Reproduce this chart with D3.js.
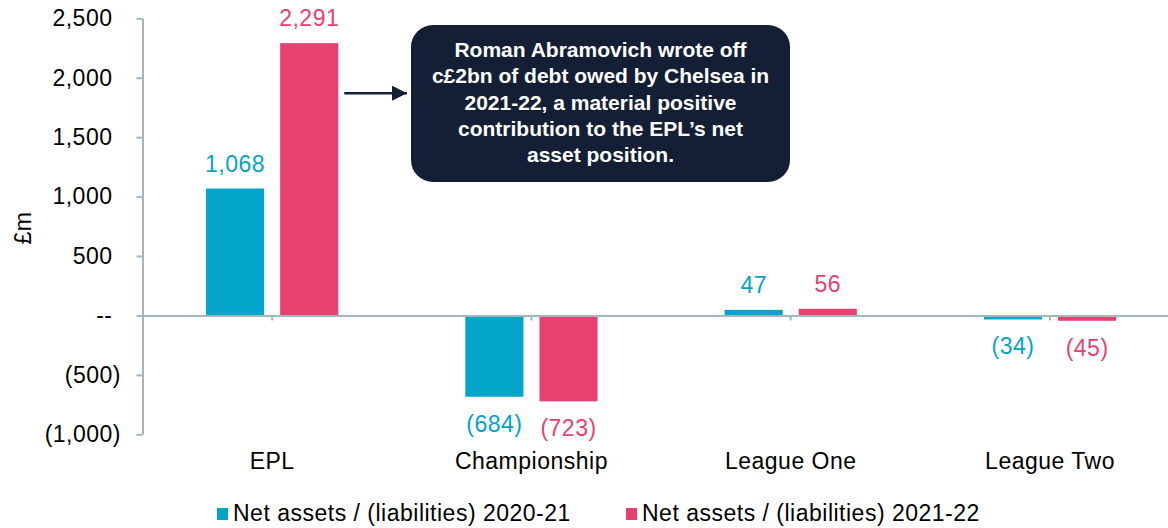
<!DOCTYPE html>
<html>
<head>
<meta charset="utf-8">
<script src="https://cdn.jsdelivr.net/npm/d3@7"></script>
<style>
  body { margin: 0; background: #fff; }
  svg { display: block; font-family: Arial, "Liberation Sans", sans-serif; }
  .lbl { font-size: 23px; letter-spacing: 0.5px; }
</style>
</head>
<body>
<div id="chart"></div>
<script>
// Chart data
const categories = ["EPL", "Championship", "League One", "League Two"];
const seriesNames = ["Net assets / (liabilities) 2020-21", "Net assets / (liabilities) 2021-22"];
const values2020_21 = [1068, -684, 47, -34];
const values2021_22 = [2291, -723, 56, -45];
const yTickValues = [-1000, -500, 0, 500, 1000, 1500, 2000, 2500];
const seriesColors = ["#02A4C9", "#E9416F"];
const calloutLines = [
    "Roman Abramovich wrote off",
    "c£2bn of debt owed by Chelsea in",
    "2021-22, a material positive",
    "contribution to the EPL\u2019s net",
    "asset position."
];

const width = 1168, height = 528;
const axisColor = "#A3B6BC";
const navy = "#141F36";

const svg = d3.select("#chart")
    .append("svg")
    .attr("width", width)
    .attr("height", height);

// Scales
const plotLeft = 142.5, step = 259.3;
const x0 = d3.scaleBand()
    .domain(categories)
    .range([plotLeft, plotLeft + step * categories.length])
    .paddingInner(0.49)
    .paddingOuter(0.245);

const x1 = d3.scaleBand()
    .domain(seriesNames)
    .range([0, x0.bandwidth()])
    .paddingInner(0.216);

const y = d3.scaleLinear()
    .domain([-1000, 2500])
    .range([434.3, 18.3]);

const fmt = v => v === 0 ? "--" : (v < 0 ? "(" + d3.format(",")(-v) + ")" : d3.format(",")(v));

// Bars
const rows = categories.map((c, i) => ({
    cat: c,
    vals: [values2020_21[i], values2021_22[i]]
}));

const groups = svg.selectAll(".grp")
    .data(rows)
    .enter().append("g")
    .attr("class", "grp")
    .attr("transform", d => `translate(${x0(d.cat)},0)`);

groups.selectAll("rect")
    .data(d => d.vals.map((v, j) => ({ v, j })))
    .enter().append("rect")
    .attr("x", d => x1(seriesNames[d.j]))
    .attr("width", x1.bandwidth())
    .attr("y", d => y(Math.max(0, d.v)))
    .attr("height", d => Math.abs(y(d.v) - y(0)))
    .attr("fill", d => seriesColors[d.j]);

groups.selectAll(".val")
    .data(d => d.vals.map((v, j) => ({ v, j })))
    .enter().append("text")
    .attr("class", "val lbl")
    .attr("x", d => x1(seriesNames[d.j]) + x1.bandwidth() / 2)
    .attr("y", d => d.v >= 0 ? y(d.v) - 17 : y(d.v) + 35)
    .attr("text-anchor", "middle")
    .attr("fill", d => seriesColors[d.j])
    .text(d => fmt(d.v));

// Y axis
const yAxis = svg.append("g")
    .attr("transform", `translate(${plotLeft},0)`)
    .call(d3.axisLeft(y).tickValues(yTickValues).tickSize(6).tickSizeOuter(0).tickFormat(fmt));

yAxis.select(".domain").attr("stroke", axisColor).attr("stroke-width", 2);
yAxis.selectAll(".tick line").attr("stroke", axisColor).attr("stroke-width", 2);
yAxis.selectAll(".tick text")
    .attr("class", "lbl")
    .attr("x", d => d < 0 ? -21.5 : -30)
    .attr("font-size", null)
    .attr("font-family", "Arial, 'Liberation Sans', sans-serif")
    .attr("fill", "#000");
yAxis.attr("font-size", null);

// X axis at zero
const xAxis = svg.append("g")
    .attr("transform", `translate(0,${y(0)})`)
    .call(d3.axisBottom(x0).tickSize(5).tickSizeOuter(0));

xAxis.select(".domain").attr("stroke", axisColor).attr("stroke-width", 2);
xAxis.selectAll(".tick line").attr("stroke", axisColor).attr("stroke-width", 2);
xAxis.selectAll(".tick text").remove();

// Category labels
svg.selectAll(".cat")
    .data(categories)
    .enter().append("text")
    .attr("class", "cat lbl")
    .attr("x", d => x0(d) + x0.bandwidth() / 2)
    .attr("y", 469)
    .attr("text-anchor", "middle")
    .attr("fill", "#000")
    .text(d => d);

// Y axis title
svg.append("text")
    .attr("class", "lbl")
    .attr("transform", "translate(31,228) rotate(-90)")
    .attr("text-anchor", "middle")
    .attr("fill", "#000")
    .text("£m");

// Callout arrow, anchored to the 2021-22 EPL bar
const arrowY = y(1870);
const arrowX1 = x0("EPL") + x1(seriesNames[1]) + x1.bandwidth() + 6;
const arrowX2 = 407;

svg.append("defs").append("marker")
    .attr("id", "head")
    .attr("viewBox", "0 0 10 10")
    .attr("refX", 10).attr("refY", 5)
    .attr("markerWidth", 6).attr("markerHeight", 6)
    .attr("markerUnits", "strokeWidth")
    .attr("orient", "auto")
    .append("path")
    .attr("d", "M0,0 L10,5 L0,10 Z")
    .attr("fill", navy);

svg.append("line")
    .attr("x1", arrowX1).attr("y1", arrowY)
    .attr("x2", arrowX2).attr("y2", arrowY)
    .attr("stroke", navy)
    .attr("stroke-width", 2.5)
    .attr("marker-end", "url(#head)");

// Callout box
const box = { x: 411, y: 25, w: 379, h: 157 };
svg.append("rect")
    .attr("x", box.x).attr("y", box.y)
    .attr("width", box.w).attr("height", box.h)
    .attr("rx", 22).attr("ry", 22)
    .attr("fill", navy);

svg.append("text")
    .attr("text-anchor", "middle")
    .attr("font-size", 21)
    .attr("font-weight", "bold")
    .attr("fill", "#fff")
    .selectAll("tspan")
    .data(calloutLines)
    .enter().append("tspan")
    .attr("x", box.x + box.w / 2)
    .attr("y", (d, i) => 57 + i * 26.3)
    .text(d => d);

// Legend
const legendX = [217, 626];
const legend = svg.selectAll(".leg")
    .data(seriesNames)
    .enter().append("g")
    .attr("class", "leg")
    .attr("transform", (d, i) => `translate(${legendX[i]},508)`);

legend.append("rect")
    .attr("width", 11).attr("height", 12)
    .attr("fill", (d, i) => seriesColors[i]);

legend.append("text")
    .attr("class", "lbl")
    .attr("x", 16)
    .attr("y", 13)
    .attr("fill", "#000")
    .text(d => d);
</script>
</body>
</html>
